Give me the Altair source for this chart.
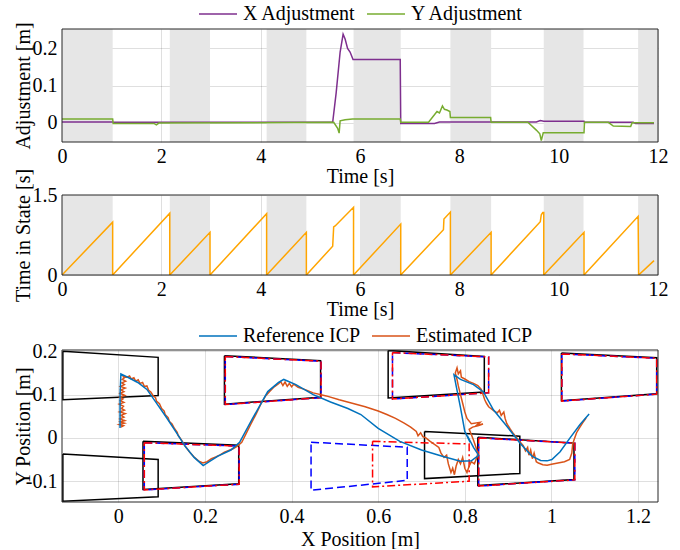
import altair as alt
import pandas as pd

FONT = "Liberation Serif"
W = 596

# ---------------- Panel 1: adjustments ----------------
shade1_start = [0.0, 2.17, 4.12, 5.87, 7.82, 9.70, 11.60]
shade1_end = [1.02, 2.98, 4.92, 6.82, 8.64, 10.50, 12.0]

x_adj_t = [0, 1.02, 1.03, 5.45, 5.52, 5.60, 5.66, 5.70, 5.75, 5.80, 5.83, 5.86, 6.81, 6.82,
           7.50, 7.60, 9.55, 9.63, 9.70, 10.51, 10.52, 11.50, 11.55, 11.92]
x_adj_v = [0.002, 0.002, 0.001, 0.001, 0.08, 0.19, 0.238, 0.225, 0.20, 0.19, 0.18, 0.17, 0.17, -0.002,
           -0.002, 0.002, 0.002, 0.006, 0.004, 0.004, 0.001, 0.001, -0.002, -0.002]

y_adj_t = [0, 1.02, 1.03, 1.85, 1.90, 1.95, 5.47, 5.55, 5.58, 5.60, 5.70, 5.85, 6.81, 6.82,
           7.38, 7.55, 7.60, 7.66, 7.70, 7.75, 7.81, 7.82, 8.63, 8.64, 9.38, 9.55, 9.62, 9.65,
           9.69, 10.51, 10.52, 11.00, 11.10, 11.45, 11.48, 11.92]
y_adj_v = [0.010, 0.010, -0.002, -0.002, -0.006, -0.001, 0.001, -0.015, -0.028, 0.005, 0.008, 0.010,
           0.010, 0.001, 0.001, 0.030, 0.026, 0.045, 0.036, 0.034, 0.030, 0.014, 0.014, 0.001,
           0.001, -0.020, -0.030, -0.048, -0.027, -0.027, 0.001, 0.001, -0.009, -0.010, 0.000, 0.000]
adj_domain = [-0.052, 0.252]

# ---------------- Panel 2: time in state ----------------
shade2_start = [0.0, 2.17, 4.12, 6.00, 7.82, 9.70, 11.60]
shade2_end = [1.02, 2.98, 4.92, 6.82, 8.64, 10.50, 12.0]

tis_t = [0, 1.02, 1.02, 2.17, 2.17, 2.98, 2.98, 4.12, 4.12, 4.92, 4.92, 5.45, 5.47, 5.50, 5.87,
         5.87, 6.82, 6.82, 7.68, 7.69, 7.82, 7.82, 8.64, 8.64, 9.63, 9.65, 9.68, 9.70, 9.70,
         10.51, 10.51, 11.60, 11.61, 11.92]
tis_v = [0, 0.99, 0, 1.16, 0, 0.80, 0, 1.15, 0, 0.80, 0, 0.54, 0.90, 0.92, 1.27,
         0, 0.955, 0, 0.85, 1.05, 1.18, 0, 0.80, 0, 1.00, 1.13, 1.17, 1.17, 0,
         0.80, 0, 1.10, 0, 0.27]
tis_domain = [0, 1.5]

# ---------------- Panel 3: ICP trajectories ----------------
ref_icp = [(0.004, 0.023), (0.004, 0.10), (0.006, 0.148), (0.024, 0.139), (0.045, 0.128),
           (0.066, 0.112), (0.085, 0.085), (0.112, 0.046), (0.133, 0.014), (0.154, -0.019),
           (0.175, -0.045), (0.196, -0.064), (0.21, -0.055), (0.23, -0.042), (0.26, -0.028),
           (0.28, -0.010), (0.31, 0.045), (0.345, 0.107), (0.37, 0.128), (0.382, 0.135),
           (0.41, 0.123), (0.45, 0.100), (0.49, 0.083), (0.53, 0.068), (0.56, 0.054),
           (0.60, 0.022), (0.65, -0.008), (0.70, -0.028), (0.75, -0.043), (0.79, -0.054),
           (0.815, -0.053), (0.832, -0.040), (0.82, -0.022), (0.806, 0.005), (0.812, -0.010),
           (0.80, 0.015), (0.79, 0.070), (0.78, 0.120), (0.775, 0.146), (0.79, 0.135),
           (0.82, 0.123), (0.843, 0.106), (0.866, 0.065), (0.897, 0.027), (0.928, -0.013),
           (0.955, -0.042), (0.975, -0.052), (0.99, -0.053), (1.001, -0.050), (1.02, -0.032),
           (1.043, 0.000), (1.066, 0.031), (1.087, 0.055)]

est_icp = [(0.006, 0.025), (0.012, 0.028), (0.002, 0.031), (0.014, 0.034), (0.005, 0.037),
           (0.015, 0.040), (0.004, 0.044), (0.013, 0.048), (0.006, 0.052), (0.016, 0.056),
           (0.003, 0.060), (0.014, 0.064), (0.007, 0.068), (0.012, 0.073), (0.002, 0.078),
           (0.013, 0.082), (0.005, 0.086), (0.011, 0.090), (0.003, 0.094), (0.015, 0.098),
           (0.004, 0.103), (0.013, 0.107), (0.006, 0.111), (0.016, 0.115), (0.005, 0.119),
           (0.014, 0.123), (0.008, 0.127), (0.017, 0.131), (0.009, 0.135), (0.014, 0.139),
           (0.010, 0.142), (0.020, 0.140), (0.026, 0.143), (0.030, 0.136), (0.036, 0.139),
           (0.040, 0.131), (0.046, 0.134), (0.050, 0.126), (0.056, 0.128), (0.060, 0.119),
           (0.066, 0.120), (0.070, 0.110), (0.075, 0.106), (0.080, 0.098), (0.086, 0.093),
           (0.088, 0.085), (0.095, 0.079), (0.100, 0.068), (0.106, 0.062), (0.108, 0.054),
           (0.115, 0.047), (0.118, 0.038), (0.124, 0.032), (0.130, 0.021), (0.136, 0.013),
           (0.138, 0.006), (0.146, -0.005), (0.155, -0.020), (0.165, -0.033),
           (0.175, -0.044), (0.185, -0.053), (0.195, -0.058), (0.205, -0.055), (0.215, -0.048),
           (0.225, -0.044), (0.235, -0.039), (0.245, -0.033), (0.255, -0.029), (0.265, -0.025),
           (0.275, -0.019), (0.285, -0.010), (0.295, 0.010), (0.305, 0.030), (0.318, 0.055),
           (0.330, 0.080), (0.340, 0.097), (0.350, 0.108), (0.360, 0.118), (0.370, 0.125),
           (0.375, 0.130), (0.380, 0.121), (0.385, 0.129), (0.390, 0.119), (0.395, 0.126),
           (0.400, 0.118), (0.405, 0.124), (0.415, 0.117), (0.430, 0.112), (0.450, 0.104),
           (0.480, 0.097), (0.510, 0.088), (0.540, 0.080), (0.570, 0.072), (0.600, 0.062),
           (0.620, 0.054), (0.640, 0.045), (0.660, 0.034), (0.675, 0.025), (0.688, 0.015),
           (0.692, 0.005), (0.698, 0.012), (0.703, 0.003), (0.710, 0.000), (0.720, -0.008),
           (0.730, -0.015), (0.740, -0.022), (0.745, -0.035), (0.752, -0.045), (0.758, -0.040),
           (0.762, -0.060), (0.768, -0.080), (0.772, -0.070), (0.776, -0.085), (0.780, -0.065),
           (0.785, -0.050), (0.790, -0.060), (0.795, -0.045), (0.800, -0.070), (0.805, -0.080),
           (0.810, -0.065), (0.815, -0.055), (0.822, -0.060), (0.828, -0.045), (0.830, -0.035),
           (0.825, -0.020), (0.820, -0.005), (0.815, 0.008), (0.810, 0.020), (0.818, 0.025),
           (0.830, 0.028), (0.842, 0.032), (0.828, 0.030), (0.835, 0.036), (0.815, 0.033),
           (0.805, 0.045), (0.800, 0.060), (0.795, 0.080), (0.790, 0.100), (0.785, 0.120),
           (0.782, 0.135), (0.778, 0.150), (0.782, 0.162), (0.785, 0.148), (0.790, 0.155),
           (0.792, 0.140), (0.800, 0.136), (0.810, 0.130), (0.820, 0.126), (0.830, 0.121),
           (0.838, 0.112), (0.842, 0.100), (0.846, 0.088), (0.850, 0.080), (0.855, 0.072),
           (0.860, 0.068), (0.868, 0.062), (0.875, 0.058), (0.880, 0.064), (0.884, 0.052),
           (0.890, 0.060), (0.893, 0.045), (0.897, 0.033), (0.905, 0.020), (0.912, 0.010),
           (0.920, 0.000), (0.928, -0.010), (0.935, -0.018), (0.940, -0.030), (0.945, -0.022),
           (0.948, -0.040), (0.952, -0.028), (0.956, -0.048), (0.960, -0.035), (0.965, -0.055),
           (0.970, -0.058), (0.980, -0.062), (0.990, -0.063), (1.000, -0.061), (1.015, -0.058),
           (1.030, -0.055), (1.042, -0.050), (1.047, -0.035), (1.049, -0.015), (1.052, -0.005),
           (1.058, 0.012), (1.065, 0.024), (1.072, 0.035), (1.080, 0.046)]
xy_domain_x = [-0.13, 1.246]
xy_domain_y = [-0.148, 0.203]

# footholds: corners (TL, TR, BR, BL)
black_polys = [
    [(-0.128, 0.200), (0.092, 0.186), (0.092, 0.098), (-0.128, 0.088)],
    [(-0.128, -0.037), (0.092, -0.050), (0.092, -0.136), (-0.128, -0.146)],
    [(0.057, -0.008), (0.278, -0.017), (0.278, -0.106), (0.057, -0.119)],
    [(0.245, 0.190), (0.467, 0.178), (0.467, 0.094), (0.245, 0.078)],
    [(0.623, 0.202), (0.845, 0.188), (0.845, 0.106), (0.623, 0.092)],
    [(1.023, 0.196), (1.243, 0.185), (1.243, 0.102), (1.023, 0.086)],
    [(0.707, 0.015), (0.927, 0.004), (0.927, -0.082), (0.707, -0.094)],
    [(0.830, 0.0015), (1.052, -0.012), (1.052, -0.096), (0.830, -0.110)],
]
blue_polys = [
    [(0.060, -0.011), (0.279, -0.019), (0.279, -0.107), (0.060, -0.120)],
    [(0.247, 0.188), (0.468, 0.177), (0.468, 0.093), (0.247, 0.077)],
    [(0.633, 0.197), (0.855, 0.187), (0.855, 0.104), (0.633, 0.090)],
    [(1.024, 0.194), (1.243, 0.184), (1.243, 0.101), (1.024, 0.085)],
    [(0.832, 0.000), (1.054, -0.012), (1.054, -0.097), (0.832, -0.111)],
    [(0.445, -0.010), (0.667, -0.0215), (0.667, -0.098), (0.445, -0.121)],
]
red_polys = [
    [(0.060, -0.011), (0.279, -0.019), (0.279, -0.107), (0.060, -0.120)],
    [(0.247, 0.188), (0.468, 0.177), (0.468, 0.093), (0.247, 0.077)],
    [(0.633, 0.197), (0.855, 0.187), (0.855, 0.104), (0.633, 0.090)],
    [(1.024, 0.194), (1.243, 0.184), (1.243, 0.101), (1.024, 0.085)],
    [(0.832, 0.000), (1.054, -0.012), (1.054, -0.097), (0.832, -0.111)],
    [(0.587, -0.008), (0.810, -0.014), (0.810, -0.100), (0.587, -0.113)],
]


def series_df(t, v, name):
    return pd.DataFrame({"t": t, "v": v, "s": name, "i": range(len(t))})


def path_df(pts, name):
    return pd.DataFrame({"x": [p[0] for p in pts], "y": [p[1] for p in pts],
                         "s": name, "i": range(len(pts))})


def poly_df(polys, group):
    rows = []
    for k, pts in enumerate(polys):
        closed = pts + [pts[0]]
        for i, (x, y) in enumerate(closed):
            rows.append({"x": x, "y": y, "poly": f"{group}{k}", "i": i})
    return pd.DataFrame(rows)


def frame(xdom, ydom, xs, ys):
    # box around the plot area, drawn on top, spanning the axis domains
    df = pd.DataFrame({"x0": [xdom[0]], "x1": [xdom[1]], "y0": [ydom[0]], "y1": [ydom[1]]})
    return alt.Chart(df).mark_rect(fillOpacity=0, stroke="#262626", strokeWidth=1).encode(
        x=alt.X("x0:Q", scale=xs), x2="x1:Q", y=alt.Y("y0:Q", scale=ys), y2="y1:Q")


tscale = alt.Scale(domain=[0, 12], nice=False, zero=False)


def time_axis():
    return alt.Axis(values=list(range(0, 13, 2)), title="Time [s]", format="d")


def left_axis(values, title, label_expr):
    return alt.Axis(values=values, title=title, labelExpr=label_expr, titleX=-39,
                    titleBaseline="middle", labelPadding=5)


lbl_g = "replace(format(datum.value, '~g'), '\u2212', '-')"

# ---- panel 1
ys1 = alt.Scale(domain=adj_domain, nice=False, zero=False)
band1 = alt.Chart(pd.DataFrame({"s": shade1_start, "e": shade1_end})).mark_rect(
    color="#E6E6E6").encode(x=alt.X("s:Q", scale=tscale, axis=time_axis()), x2="e:Q")
adj_df = pd.concat([series_df(x_adj_t, x_adj_v, "X Adjustment"),
                    series_df(y_adj_t, y_adj_v, "Y Adjustment")])
adj = alt.Chart(adj_df).mark_line(strokeWidth=1.5, clip=True).encode(
    x=alt.X("t:Q", scale=tscale),
    y=alt.Y("v:Q", scale=ys1,
            axis=left_axis([0, 0.05, 0.1, 0.15, 0.2], "Adjustment [m]",
                           "indexof(['0','0.1','0.2'], format(datum.value,'.2~f')) >= 0 ? format(datum.value,'.2~f') : ''")),
    color=alt.Color("s:N", scale=alt.Scale(domain=["X Adjustment", "Y Adjustment"],
                                           range=["#7E2F8E", "#77AC30"]),
                    legend=alt.Legend(title=None, orient="none", legendX=136, legendY=-35,
                                      direction="horizontal")),
    order="i:Q")
p1 = alt.layer(band1, adj, frame([0, 12], adj_domain, tscale, ys1)).properties(width=W, height=113)

# ---- panel 2
ys2 = alt.Scale(domain=tis_domain, nice=False, zero=False)
band2 = alt.Chart(pd.DataFrame({"s": shade2_start, "e": shade2_end})).mark_rect(
    color="#E6E6E6").encode(x=alt.X("s:Q", scale=tscale, axis=time_axis()), x2="e:Q")
tis = alt.Chart(series_df(tis_t, tis_v, "Time in State")).mark_line(
    strokeWidth=1.5, color="#FFA500", clip=True).encode(
    x=alt.X("t:Q", scale=tscale),
    y=alt.Y("v:Q", scale=ys2,
            axis=left_axis([0, 0.5, 1, 1.5], "Time in State [s]", lbl_g)),
    order="i:Q")
p2 = alt.layer(band2, tis, frame([0, 12], tis_domain, tscale, ys2)).properties(width=W, height=80)

# ---- panel 3
xs3 = alt.Scale(domain=xy_domain_x, nice=False, zero=False)
ys3 = alt.Scale(domain=xy_domain_y, nice=False, zero=False)
x3axis = alt.Axis(values=[0, 0.2, 0.4, 0.6, 0.8, 1.0, 1.2], title="X Position [m]",
                  labelExpr=lbl_g, titlePadding=3)
y3axis = left_axis([-0.1, 0, 0.1, 0.2], "Y Position [m]", lbl_g)

blk = alt.Chart(poly_df(black_polys, "k")).mark_line(
    color="#000000", strokeWidth=1.5, clip=True).encode(
    x=alt.X("x:Q", scale=xs3, axis=x3axis), y=alt.Y("y:Q", scale=ys3, axis=y3axis),
    detail="poly:N", order="i:Q")
blu = alt.Chart(poly_df(blue_polys, "b")).mark_line(
    color="#0000FF", strokeWidth=1.5, strokeDash=[8, 4], clip=True).encode(
    x=alt.X("x:Q", scale=xs3), y=alt.Y("y:Q", scale=ys3), detail="poly:N", order="i:Q")
red = alt.Chart(poly_df(red_polys, "r")).mark_line(
    color="#FF0000", strokeWidth=1.5, strokeDash=[8, 3, 2, 3], clip=True).encode(
    x=alt.X("x:Q", scale=xs3), y=alt.Y("y:Q", scale=ys3), detail="poly:N", order="i:Q")

icp_color = alt.Color("s:N", scale=alt.Scale(domain=["Reference ICP", "Estimated ICP"],
                                             range=["#0072BD", "#D95319"]),
                      legend=alt.Legend(title=None, orient="none", legendX=136, legendY=-34,
                                        direction="horizontal"))
est = alt.Chart(path_df(est_icp, "Estimated ICP")).mark_line(strokeWidth=1.5, clip=True).encode(
    x=alt.X("x:Q", scale=xs3), y=alt.Y("y:Q", scale=ys3), color=icp_color, order="i:Q")
ref = alt.Chart(path_df(ref_icp, "Reference ICP")).mark_line(strokeWidth=1.5, clip=True).encode(
    x=alt.X("x:Q", scale=xs3), y=alt.Y("y:Q", scale=ys3), color=icp_color, order="i:Q")
p3 = alt.layer(blk, blu, red, est, ref, frame(xy_domain_x, xy_domain_y, xs3, ys3)).properties(
    width=W, height=152)

top = alt.vconcat(p1, p2, spacing=-18).resolve_scale(color="independent")
chart = alt.vconcat(top, p3, spacing=-3).resolve_scale(color="independent").configure(
    font=FONT, padding={"left": 12, "top": -6, "right": 5, "bottom": 0}
).configure_view(stroke=None).configure_axis(
    labelFont=FONT, titleFont=FONT, labelFontSize=20, titleFontSize=20,
    labelColor="#000000", titleColor="#000000", titleFontWeight="normal",
    gridColor="#262626", gridOpacity=0.15, domain=False, ticks=False, zindex=1,
    labelFlush=False
).configure_axisX(labelPadding=4, titlePadding=0).configure_legend(
    labelFont=FONT, labelFontSize=20, labelColor="#000000", symbolType="stroke",
    symbolSize=1444, symbolStrokeWidth=1.5, labelOffset=5, columnPadding=8, padding=0
)

chart.save("out.html", embed_options={"renderer": "svg", "actions": False})
